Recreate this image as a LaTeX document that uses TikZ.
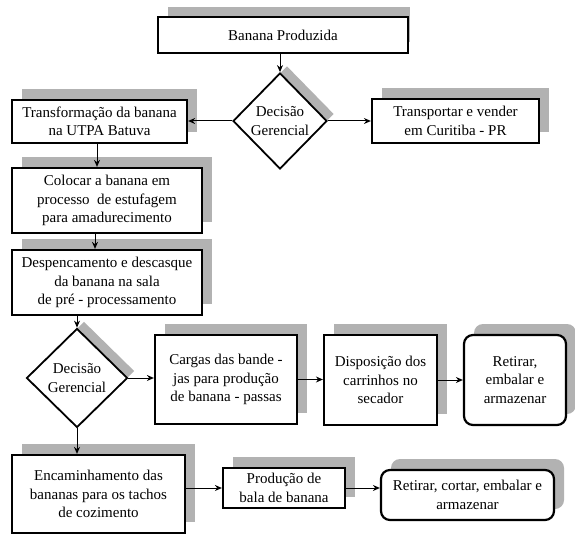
\documentclass[tikz,border=0pt]{standalone}
\usepackage{fontspec}
\setmainfont{Liberation Serif}
\usetikzlibrary{shapes.geometric,shadows,arrows.meta,calc}
\begin{document}
\begin{tikzpicture}[x=1pt,y=-1pt,
  every node/.style={font=\fontsize{15}{18.5}\selectfont, align=center},
  shad/.style={general shadow={fill=gray!60, shadow xshift=10pt, shadow yshift=11pt}},
  box/.style={draw, line width=2.2pt, fill=white, rectangle, inner sep=1pt, shad},
  rbox/.style={box, rounded corners=9pt},
  dec/.style={draw, line width=1.8pt, fill=white, diamond, aspect=1, inner sep=-6pt,
    general shadow={fill=gray!60, shadow xshift=7pt, shadow yshift=7pt}},
  arr/.style={line width=1pt, -{Stealth[length=7pt,width=6pt]}}
]
\useasboundingbox (0,0) rectangle (575,534);
\fill[white] (0,0) rectangle (575,534);

\node[draw, line width=2.2pt, fill=white, rectangle, inner sep=1pt,
  general shadow={fill=gray!60, shadow xshift=6pt, shadow yshift=11pt, shadow scale=0.97},
  minimum width=250pt, minimum height=36pt] (banana) at (283,35) {Banana Produzida};
\node[dec, minimum width=94pt, minimum height=96pt] (dec1) at (280,121) {Decisão\\Gerencial};
\node[box, minimum width=175pt, minimum height=43pt] (transf) at (99.5,121.5) {Transformação da banana\\na UTPA Batuva};
\node[box, minimum width=167pt, minimum height=44pt] (transp) at (455.5,121) {Transportar e vender\\em Curitiba - PR};
\node[box, minimum width=190pt, minimum height=65pt] (colocar) at (107,200.5) {Colocar a banana em\\processo\ \ de estufagem\\para amadurecimento};
\node[box, minimum width=190pt, minimum height=65pt] (desp) at (107,282.5) {Despencamento e descasque\\da banana na sala\\de pré - processamento};
\node[dec, minimum width=101pt, minimum height=99pt] (dec2) at (77,378) {Decisão\\Gerencial};
\node[box, minimum width=142pt, minimum height=89pt] (cargas) at (226,379.5) {Cargas das bande -\\jas para produção\\de banana - passas};
\node[box, minimum width=113pt, minimum height=90pt] (disp) at (380.5,380) {Disposição dos\\carrinhos no\\secador};
\node[rbox, minimum width=102pt, minimum height=90pt] (retirar) at (515,380) {Retirar,\\embalar e\\armazenar};
\node[box, minimum width=173pt, minimum height=78pt] (enc) at (98.5,494) {Encaminhamento das\\bananas para os tachos\\de cozimento};
\node[box, minimum width=122pt, minimum height=40pt] (prod) at (284,488) {Produção de\\bala de banana};
\node[rbox, minimum width=173pt, minimum height=50pt] (ret2) at (467.5,495) {Retirar, cortar, embalar e\\armazenar};

\draw[arr] (banana.south -| dec1.north) -- (dec1.north);
\draw[arr] (dec1.west) -- (dec1.west -| transf.east);
\draw[arr] (dec1.east) -- (dec1.east -| transp.west);
\draw[arr] ([xshift=-2.5pt]transf.south) -- ([xshift=-2.5pt]transf.south |- colocar.north);
\draw[arr] ([xshift=-12pt]colocar.south) -- ([xshift=-12pt]colocar.south |- desp.north);
\draw[arr] (desp.south -| dec2.north) -- (dec2.north);
\draw[arr] (dec2.east) -- (dec2.east -| cargas.west);
\draw[arr] (cargas.east) -- (cargas.east -| disp.west);
\draw[arr] (disp.east) -- (disp.east -| retirar.west);
\draw[arr] (dec2.south) -- (dec2.south |- enc.north);
\draw[arr] (prod.west -| enc.east) -- (prod.west);
\draw[arr] (prod.east) -- (prod.east -| ret2.west);
\end{tikzpicture}
\end{document}
